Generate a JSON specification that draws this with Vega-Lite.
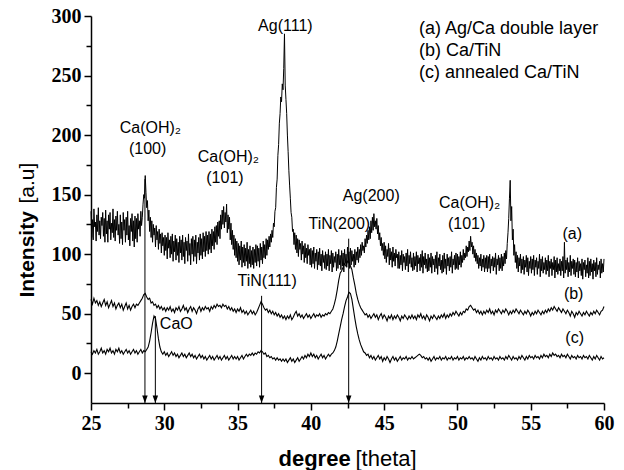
{
"$schema":"https://vega.github.io/schema/vega-lite/v6.json",
"width":513,"height":387,
"autosize":{"type":"none"},
"padding":{"left":91,"top":16,"right":20,"bottom":67},
"background":"white",
"config":{"view":{"stroke":null},"font":"Liberation Sans"},
"datasets":{
"ra":[
{"x":25.00,"a":136},{"x":25.05,"a":114},{"x":25.10,"a":129},{"x":25.15,"a":112},{"x":25.20,"a":138},{"x":25.25,"a":123},{"x":25.30,"a":127},{"x":25.35,"a":111},{"x":25.40,"a":133},{"x":25.45,"a":119},{"x":25.50,"a":139},{"x":25.55,"a":116},{"x":25.60,"a":128},{"x":25.65,"a":113},{"x":25.70,"a":131},{"x":25.75,"a":124},{"x":25.80,"a":135},{"x":25.85,"a":115},{"x":25.90,"a":130},{"x":25.95,"a":110},
{"x":26.00,"a":137},{"x":26.05,"a":117},{"x":26.10,"a":128},{"x":26.15,"a":110},{"x":26.20,"a":133},{"x":26.25,"a":121},{"x":26.30,"a":135},{"x":26.35,"a":112},{"x":26.40,"a":126},{"x":26.45,"a":118},{"x":26.50,"a":138},{"x":26.55,"a":114},{"x":26.60,"a":129},{"x":26.65,"a":111},{"x":26.70,"a":132},{"x":26.75,"a":120},{"x":26.80,"a":136},{"x":26.85,"a":116},{"x":26.90,"a":125},{"x":26.95,"a":109},
{"x":27.00,"a":133},{"x":27.05,"a":113},{"x":27.10,"a":127},{"x":27.15,"a":108},{"x":27.20,"a":135},{"x":27.25,"a":120},{"x":27.30,"a":129},{"x":27.35,"a":110},{"x":27.40,"a":131},{"x":27.45,"a":116},{"x":27.50,"a":136},{"x":27.55,"a":112},{"x":27.60,"a":124},{"x":27.65,"a":107},{"x":27.70,"a":130},{"x":27.75,"a":119},{"x":27.80,"a":134},{"x":27.85,"a":111},{"x":27.90,"a":128},{"x":27.95,"a":106},
{"x":28.00,"a":132},{"x":28.05,"a":113},{"x":28.10,"a":130},{"x":28.15,"a":110},{"x":28.20,"a":134},{"x":28.25,"a":121},{"x":28.30,"a":128},{"x":28.35,"a":115},{"x":28.40,"a":136},{"x":28.45,"a":124},{"x":28.50,"a":131},{"x":28.55,"a":142},{"x":28.60,"a":150},{"x":28.65,"a":147},{"x":28.70,"a":166},{"x":28.75,"a":152},{"x":28.80,"a":139},{"x":28.85,"a":145},{"x":28.90,"a":128},{"x":28.95,"a":137},
{"x":29.00,"a":119},{"x":29.05,"a":131},{"x":29.10,"a":114},{"x":29.15,"a":128},{"x":29.20,"a":110},{"x":29.25,"a":125},{"x":29.30,"a":116},{"x":29.35,"a":122},{"x":29.40,"a":106},{"x":29.45,"a":124},{"x":29.50,"a":112},{"x":29.55,"a":119},{"x":29.60,"a":104},{"x":29.65,"a":121},{"x":29.70,"a":109},{"x":29.75,"a":117},{"x":29.80,"a":101},{"x":29.85,"a":118},{"x":29.90,"a":107},{"x":29.95,"a":114},
{"x":30.00,"a":99},{"x":30.05,"a":116},{"x":30.10,"a":103},{"x":30.15,"a":114},{"x":30.20,"a":96},{"x":30.25,"a":118},{"x":30.30,"a":105},{"x":30.35,"a":112},{"x":30.40,"a":97},{"x":30.45,"a":115},{"x":30.50,"a":100},{"x":30.55,"a":117},{"x":30.60,"a":94},{"x":30.65,"a":111},{"x":30.70,"a":102},{"x":30.75,"a":116},{"x":30.80,"a":95},{"x":30.85,"a":113},{"x":30.90,"a":99},{"x":30.95,"a":110},
{"x":31.00,"a":93},{"x":31.05,"a":115},{"x":31.10,"a":101},{"x":31.15,"a":112},{"x":31.20,"a":95},{"x":31.25,"a":116},{"x":31.30,"a":98},{"x":31.35,"a":110},{"x":31.40,"a":92},{"x":31.45,"a":114},{"x":31.50,"a":103},{"x":31.55,"a":111},{"x":31.60,"a":94},{"x":31.65,"a":117},{"x":31.70,"a":99},{"x":31.75,"a":109},{"x":31.80,"a":91},{"x":31.85,"a":113},{"x":31.90,"a":100},{"x":31.95,"a":115},
{"x":32.00,"a":94},{"x":32.05,"a":112},{"x":32.10,"a":98},{"x":32.15,"a":116},{"x":32.20,"a":92},{"x":32.25,"a":110},{"x":32.30,"a":101},{"x":32.35,"a":114},{"x":32.40,"a":95},{"x":32.45,"a":117},{"x":32.50,"a":99},{"x":32.55,"a":113},{"x":32.60,"a":96},{"x":32.65,"a":118},{"x":32.70,"a":102},{"x":32.75,"a":115},{"x":32.80,"a":98},{"x":32.85,"a":119},{"x":32.90,"a":103},{"x":32.95,"a":116},
{"x":33.00,"a":100},{"x":33.05,"a":119},{"x":33.10,"a":104},{"x":33.15,"a":117},{"x":33.20,"a":101},{"x":33.25,"a":121},{"x":33.30,"a":107},{"x":33.35,"a":119},{"x":33.40,"a":104},{"x":33.45,"a":123},{"x":33.50,"a":110},{"x":33.55,"a":124},{"x":33.60,"a":108},{"x":33.65,"a":127},{"x":33.70,"a":115},{"x":33.75,"a":128},{"x":33.80,"a":113},{"x":33.85,"a":133},{"x":33.90,"a":121},{"x":33.95,"a":137},
{"x":34.00,"a":125},{"x":34.05,"a":140},{"x":34.10,"a":122},{"x":34.15,"a":135},{"x":34.20,"a":127},{"x":34.25,"a":142},{"x":34.30,"a":118},{"x":34.35,"a":133},{"x":34.40,"a":121},{"x":34.45,"a":131},{"x":34.50,"a":112},{"x":34.55,"a":126},{"x":34.60,"a":108},{"x":34.65,"a":120},{"x":34.70,"a":104},{"x":34.75,"a":116},{"x":34.80,"a":99},{"x":34.85,"a":113},{"x":34.90,"a":97},{"x":34.95,"a":111},
{"x":35.00,"a":94},{"x":35.05,"a":109},{"x":35.10,"a":91},{"x":35.15,"a":107},{"x":35.20,"a":95},{"x":35.25,"a":111},{"x":35.30,"a":89},{"x":35.35,"a":106},{"x":35.40,"a":93},{"x":35.45,"a":108},{"x":35.50,"a":90},{"x":35.55,"a":105},{"x":35.60,"a":94},{"x":35.65,"a":110},{"x":35.70,"a":88},{"x":35.75,"a":104},{"x":35.80,"a":92},{"x":35.85,"a":107},{"x":35.90,"a":89},{"x":35.95,"a":103},
{"x":36.00,"a":91},{"x":36.05,"a":106},{"x":36.10,"a":88},{"x":36.15,"a":104},{"x":36.20,"a":93},{"x":36.25,"a":108},{"x":36.30,"a":90},{"x":36.35,"a":107},{"x":36.40,"a":94},{"x":36.45,"a":105},{"x":36.50,"a":89},{"x":36.55,"a":109},{"x":36.60,"a":95},{"x":36.65,"a":106},{"x":36.70,"a":92},{"x":36.75,"a":111},{"x":36.80,"a":97},{"x":36.85,"a":108},{"x":36.90,"a":96},{"x":36.95,"a":113},
{"x":37.00,"a":99},{"x":37.05,"a":112},{"x":37.10,"a":104},{"x":37.15,"a":115},{"x":37.20,"a":106},{"x":37.25,"a":117},{"x":37.30,"a":110},{"x":37.35,"a":120},{"x":37.40,"a":114},{"x":37.45,"a":126},{"x":37.50,"a":123},{"x":37.55,"a":136},{"x":37.60,"a":139},{"x":37.65,"a":156},{"x":37.70,"a":163},{"x":37.75,"a":183},{"x":37.80,"a":192},{"x":37.85,"a":210},{"x":37.90,"a":218},{"x":37.95,"a":232},
{"x":38.00,"a":228},{"x":38.05,"a":243},{"x":38.10,"a":238},{"x":38.15,"a":256},{"x":38.20,"a":285},{"x":38.25,"a":242},{"x":38.30,"a":230},{"x":38.35,"a":218},{"x":38.40,"a":200},{"x":38.45,"a":186},{"x":38.50,"a":170},{"x":38.55,"a":158},{"x":38.60,"a":147},{"x":38.65,"a":135},{"x":38.70,"a":131},{"x":38.75,"a":119},{"x":38.80,"a":121},{"x":38.85,"a":108},{"x":38.90,"a":118},{"x":38.95,"a":104},
{"x":39.00,"a":116},{"x":39.05,"a":101},{"x":39.10,"a":113},{"x":39.15,"a":98},{"x":39.20,"a":112},{"x":39.25,"a":104},{"x":39.30,"a":109},{"x":39.35,"a":95},{"x":39.40,"a":111},{"x":39.45,"a":100},{"x":39.50,"a":107},{"x":39.55,"a":93},{"x":39.60,"a":109},{"x":39.65,"a":97},{"x":39.70,"a":105},{"x":39.75,"a":92},{"x":39.80,"a":108},{"x":39.85,"a":99},{"x":39.90,"a":104},{"x":39.95,"a":91},
{"x":40.00,"a":105},{"x":40.05,"a":89},{"x":40.10,"a":103},{"x":40.15,"a":92},{"x":40.20,"a":106},{"x":40.25,"a":88},{"x":40.30,"a":101},{"x":40.35,"a":94},{"x":40.40,"a":104},{"x":40.45,"a":87},{"x":40.50,"a":102},{"x":40.55,"a":91},{"x":40.60,"a":105},{"x":40.65,"a":90},{"x":40.70,"a":100},{"x":40.75,"a":86},{"x":40.80,"a":103},{"x":40.85,"a":93},{"x":40.90,"a":99},{"x":40.95,"a":88},
{"x":41.00,"a":102},{"x":41.05,"a":87},{"x":41.10,"a":100},{"x":41.15,"a":90},{"x":41.20,"a":104},{"x":41.25,"a":86},{"x":41.30,"a":99},{"x":41.35,"a":92},{"x":41.40,"a":103},{"x":41.45,"a":85},{"x":41.50,"a":101},{"x":41.55,"a":89},{"x":41.60,"a":98},{"x":41.65,"a":93},{"x":41.70,"a":102},{"x":41.75,"a":86},{"x":41.80,"a":100},{"x":41.85,"a":88},{"x":41.90,"a":104},{"x":41.95,"a":91},
{"x":42.00,"a":99},{"x":42.05,"a":87},{"x":42.10,"a":103},{"x":42.15,"a":90},{"x":42.20,"a":101},{"x":42.25,"a":85},{"x":42.30,"a":104},{"x":42.35,"a":92},{"x":42.40,"a":100},{"x":42.45,"a":89},{"x":42.50,"a":106},{"x":42.55,"a":93},{"x":42.60,"a":102},{"x":42.65,"a":88},{"x":42.70,"a":105},{"x":42.75,"a":91},{"x":42.80,"a":103},{"x":42.85,"a":94},{"x":42.90,"a":100},{"x":42.95,"a":89},
{"x":43.00,"a":104},{"x":43.05,"a":91},{"x":43.10,"a":102},{"x":43.15,"a":95},{"x":43.20,"a":106},{"x":43.25,"a":93},{"x":43.30,"a":104},{"x":43.35,"a":97},{"x":43.40,"a":108},{"x":43.45,"a":99},{"x":43.50,"a":110},{"x":43.55,"a":103},{"x":43.60,"a":107},{"x":43.65,"a":101},{"x":43.70,"a":113},{"x":43.75,"a":106},{"x":43.80,"a":116},{"x":43.85,"a":109},{"x":43.90,"a":120},{"x":43.95,"a":112},
{"x":44.00,"a":123},{"x":44.05,"a":113},{"x":44.10,"a":128},{"x":44.15,"a":118},{"x":44.20,"a":131},{"x":44.25,"a":120},{"x":44.30,"a":134},{"x":44.35,"a":123},{"x":44.40,"a":128},{"x":44.45,"a":121},{"x":44.50,"a":130},{"x":44.55,"a":117},{"x":44.60,"a":124},{"x":44.65,"a":112},{"x":44.70,"a":118},{"x":44.75,"a":107},{"x":44.80,"a":114},{"x":44.85,"a":103},{"x":44.90,"a":109},{"x":44.95,"a":99},
{"x":45.00,"a":110},{"x":45.05,"a":96},{"x":45.10,"a":107},{"x":45.15,"a":93},{"x":45.20,"a":104},{"x":45.25,"a":98},{"x":45.30,"a":109},{"x":45.35,"a":91},{"x":45.40,"a":105},{"x":45.45,"a":95},{"x":45.50,"a":102},{"x":45.55,"a":89},{"x":45.60,"a":106},{"x":45.65,"a":94},{"x":45.70,"a":101},{"x":45.75,"a":90},{"x":45.80,"a":104},{"x":45.85,"a":97},{"x":45.90,"a":100},{"x":45.95,"a":88},
{"x":46.00,"a":102},{"x":46.05,"a":88},{"x":46.10,"a":99},{"x":46.15,"a":91},{"x":46.20,"a":103},{"x":46.25,"a":86},{"x":46.30,"a":100},{"x":46.35,"a":93},{"x":46.40,"a":98},{"x":46.45,"a":87},{"x":46.50,"a":101},{"x":46.55,"a":90},{"x":46.60,"a":104},{"x":46.65,"a":85},{"x":46.70,"a":99},{"x":46.75,"a":92},{"x":46.80,"a":102},{"x":46.85,"a":89},{"x":46.90,"a":97},{"x":46.95,"a":86},
{"x":47.00,"a":101},{"x":47.05,"a":87},{"x":47.10,"a":98},{"x":47.15,"a":90},{"x":47.20,"a":102},{"x":47.25,"a":85},{"x":47.30,"a":99},{"x":47.35,"a":92},{"x":47.40,"a":97},{"x":47.45,"a":86},{"x":47.50,"a":100},{"x":47.55,"a":89},{"x":47.60,"a":103},{"x":47.65,"a":84},{"x":47.70,"a":98},{"x":47.75,"a":91},{"x":47.80,"a":101},{"x":47.85,"a":88},{"x":47.90,"a":96},{"x":47.95,"a":85},
{"x":48.00,"a":100},{"x":48.05,"a":86},{"x":48.10,"a":97},{"x":48.15,"a":89},{"x":48.20,"a":101},{"x":48.25,"a":84},{"x":48.30,"a":98},{"x":48.35,"a":91},{"x":48.40,"a":96},{"x":48.45,"a":85},{"x":48.50,"a":99},{"x":48.55,"a":88},{"x":48.60,"a":102},{"x":48.65,"a":83},{"x":48.70,"a":97},{"x":48.75,"a":90},{"x":48.80,"a":100},{"x":48.85,"a":87},{"x":48.90,"a":95},{"x":48.95,"a":84},
{"x":49.00,"a":99},{"x":49.05,"a":85},{"x":49.10,"a":101},{"x":49.15,"a":88},{"x":49.20,"a":96},{"x":49.25,"a":83},{"x":49.30,"a":100},{"x":49.35,"a":90},{"x":49.40,"a":97},{"x":49.45,"a":86},{"x":49.50,"a":98},{"x":49.55,"a":89},{"x":49.60,"a":102},{"x":49.65,"a":84},{"x":49.70,"a":96},{"x":49.75,"a":91},{"x":49.80,"a":99},{"x":49.85,"a":87},{"x":49.90,"a":101},{"x":49.95,"a":88},
{"x":50.00,"a":100},{"x":50.05,"a":87},{"x":50.10,"a":98},{"x":50.15,"a":91},{"x":50.20,"a":102},{"x":50.25,"a":89},{"x":50.30,"a":99},{"x":50.35,"a":93},{"x":50.40,"a":104},{"x":50.45,"a":95},{"x":50.50,"a":101},{"x":50.55,"a":97},{"x":50.60,"a":107},{"x":50.65,"a":98},{"x":50.70,"a":106},{"x":50.75,"a":102},{"x":50.80,"a":111},{"x":50.85,"a":103},{"x":50.90,"a":115},{"x":50.95,"a":106},
{"x":51.00,"a":110},{"x":51.05,"a":100},{"x":51.10,"a":107},{"x":51.15,"a":97},{"x":51.20,"a":104},{"x":51.25,"a":94},{"x":51.30,"a":101},{"x":51.35,"a":92},{"x":51.40,"a":99},{"x":51.45,"a":88},{"x":51.50,"a":97},{"x":51.55,"a":90},{"x":51.60,"a":100},{"x":51.65,"a":86},{"x":51.70,"a":96},{"x":51.75,"a":89},{"x":51.80,"a":99},{"x":51.85,"a":85},{"x":51.90,"a":97},{"x":51.95,"a":88},
{"x":52.00,"a":99},{"x":52.05,"a":85},{"x":52.10,"a":98},{"x":52.15,"a":88},{"x":52.20,"a":100},{"x":52.25,"a":84},{"x":52.30,"a":96},{"x":52.35,"a":90},{"x":52.40,"a":98},{"x":52.45,"a":86},{"x":52.50,"a":97},{"x":52.55,"a":89},{"x":52.60,"a":101},{"x":52.65,"a":83},{"x":52.70,"a":96},{"x":52.75,"a":91},{"x":52.80,"a":99},{"x":52.85,"a":86},{"x":52.90,"a":97},{"x":52.95,"a":88},
{"x":53.00,"a":100},{"x":53.05,"a":86},{"x":53.10,"a":98},{"x":53.15,"a":90},{"x":53.20,"a":101},{"x":53.25,"a":92},{"x":53.30,"a":103},{"x":53.35,"a":96},{"x":53.40,"a":109},{"x":53.45,"a":118},{"x":53.50,"a":130},{"x":53.55,"a":147},{"x":53.60,"a":162},{"x":53.65,"a":128},{"x":53.70,"a":140},{"x":53.75,"a":112},{"x":53.80,"a":121},{"x":53.85,"a":99},{"x":53.90,"a":108},{"x":53.95,"a":93},
{"x":54.00,"a":102},{"x":54.05,"a":88},{"x":54.10,"a":99},{"x":54.15,"a":85},{"x":54.20,"a":97},{"x":54.25,"a":90},{"x":54.30,"a":100},{"x":54.35,"a":84},{"x":54.40,"a":96},{"x":54.45,"a":87},{"x":54.50,"a":98},{"x":54.55,"a":83},{"x":54.60,"a":95},{"x":54.65,"a":89},{"x":54.70,"a":99},{"x":54.75,"a":85},{"x":54.80,"a":97},{"x":54.85,"a":82},{"x":54.90,"a":94},{"x":54.95,"a":88},
{"x":55.00,"a":98},{"x":55.05,"a":84},{"x":55.10,"a":96},{"x":55.15,"a":87},{"x":55.20,"a":99},{"x":55.25,"a":82},{"x":55.30,"a":95},{"x":55.35,"a":89},{"x":55.40,"a":97},{"x":55.45,"a":83},{"x":55.50,"a":94},{"x":55.55,"a":88},{"x":55.60,"a":100},{"x":55.65,"a":81},{"x":55.70,"a":96},{"x":55.75,"a":86},{"x":55.80,"a":98},{"x":55.85,"a":84},{"x":55.90,"a":93},{"x":55.95,"a":87},
{"x":56.00,"a":97},{"x":56.05,"a":83},{"x":56.10,"a":95},{"x":56.15,"a":86},{"x":56.20,"a":99},{"x":56.25,"a":81},{"x":56.30,"a":94},{"x":56.35,"a":88},{"x":56.40,"a":96},{"x":56.45,"a":82},{"x":56.50,"a":93},{"x":56.55,"a":87},{"x":56.60,"a":98},{"x":56.65,"a":80},{"x":56.70,"a":95},{"x":56.75,"a":85},{"x":56.80,"a":97},{"x":56.85,"a":83},{"x":56.90,"a":92},{"x":56.95,"a":86},
{"x":57.00,"a":96},{"x":57.05,"a":82},{"x":57.10,"a":94},{"x":57.15,"a":86},{"x":57.20,"a":98},{"x":57.25,"a":80},{"x":57.30,"a":110},{"x":57.35,"a":84},{"x":57.40,"a":95},{"x":57.45,"a":87},{"x":57.50,"a":97},{"x":57.55,"a":81},{"x":57.60,"a":93},{"x":57.65,"a":85},{"x":57.70,"a":99},{"x":57.75,"a":82},{"x":57.80,"a":94},{"x":57.85,"a":88},{"x":57.90,"a":96},{"x":57.95,"a":83},
{"x":58.00,"a":95},{"x":58.05,"a":81},{"x":58.10,"a":93},{"x":58.15,"a":85},{"x":58.20,"a":97},{"x":58.25,"a":80},{"x":58.30,"a":94},{"x":58.35,"a":86},{"x":58.40,"a":92},{"x":58.45,"a":82},{"x":58.50,"a":96},{"x":58.55,"a":79},{"x":58.60,"a":93},{"x":58.65,"a":87},{"x":58.70,"a":95},{"x":58.75,"a":81},{"x":58.80,"a":91},{"x":58.85,"a":84},{"x":58.90,"a":97},{"x":58.95,"a":80},
{"x":59.00,"a":94},{"x":59.05,"a":82},{"x":59.10,"a":96},{"x":59.15,"a":85},{"x":59.20,"a":92},{"x":59.25,"a":79},{"x":59.30,"a":95},{"x":59.35,"a":86},{"x":59.40,"a":93},{"x":59.45,"a":81},{"x":59.50,"a":97},{"x":59.55,"a":83},{"x":59.60,"a":91},{"x":59.65,"a":87},{"x":59.70,"a":94},{"x":59.75,"a":80},{"x":59.80,"a":96},{"x":59.85,"a":84},{"x":59.90,"a":92},{"x":59.95,"a":85},
{"x":60.00,"a":96}
],
"xrd":[
{"x":25.0,"b":62,"c":18},{"x":25.1,"b":58,"c":16},{"x":25.2,"b":63,"c":19},{"x":25.3,"b":59,"c":17},{"x":25.4,"b":61,"c":20},{"x":25.5,"b":57,"c":16},{"x":25.6,"b":60,"c":18},{"x":25.7,"b":56,"c":21},{"x":25.8,"b":59,"c":17},{"x":25.9,"b":62,"c":19},
{"x":26.0,"b":57,"c":16},{"x":26.1,"b":60,"c":20},{"x":26.2,"b":55,"c":18},{"x":26.3,"b":58,"c":21},{"x":26.4,"b":61,"c":17},{"x":26.5,"b":56,"c":19},{"x":26.6,"b":59,"c":16},{"x":26.7,"b":54,"c":20},{"x":26.8,"b":57,"c":18},{"x":26.9,"b":59,"c":21},
{"x":27.0,"b":55,"c":17},{"x":27.1,"b":58,"c":19},{"x":27.2,"b":53,"c":16},{"x":27.3,"b":56,"c":18},{"x":27.4,"b":59,"c":20},{"x":27.5,"b":54,"c":17},{"x":27.6,"b":57,"c":19},{"x":27.7,"b":53,"c":16},{"x":27.8,"b":56,"c":18},{"x":27.9,"b":58,"c":20},
{"x":28.0,"b":55,"c":17},{"x":28.1,"b":58,"c":19},{"x":28.2,"b":57,"c":16},{"x":28.3,"b":59,"c":18},{"x":28.4,"b":61,"c":20},{"x":28.5,"b":63,"c":17},{"x":28.6,"b":66,"c":19},{"x":28.7,"b":67,"c":18},{"x":28.8,"b":64,"c":20},{"x":28.9,"b":62,"c":22},
{"x":29.0,"b":63,"c":27},{"x":29.1,"b":59,"c":34},{"x":29.2,"b":60,"c":42},{"x":29.3,"b":57,"c":48},{"x":29.4,"b":58,"c":46},{"x":29.5,"b":55,"c":38},{"x":29.6,"b":57,"c":29},{"x":29.7,"b":54,"c":22},{"x":29.8,"b":56,"c":18},{"x":29.9,"b":53,"c":16},
{"x":30.0,"b":55,"c":18},{"x":30.1,"b":52,"c":15},{"x":30.2,"b":55,"c":17},{"x":30.3,"b":53,"c":14},{"x":30.4,"b":56,"c":16},{"x":30.5,"b":52,"c":18},{"x":30.6,"b":54,"c":15},{"x":30.7,"b":51,"c":17},{"x":30.8,"b":55,"c":14},{"x":30.9,"b":53,"c":16},
{"x":31.0,"b":56,"c":13},{"x":31.1,"b":52,"c":15},{"x":31.2,"b":54,"c":17},{"x":31.3,"b":57,"c":14},{"x":31.4,"b":53,"c":16},{"x":31.5,"b":55,"c":13},{"x":31.6,"b":51,"c":15},{"x":31.7,"b":54,"c":17},{"x":31.8,"b":56,"c":14},{"x":31.9,"b":52,"c":16},
{"x":32.0,"b":55,"c":13},{"x":32.1,"b":53,"c":15},{"x":32.2,"b":50,"c":12},{"x":32.3,"b":54,"c":14},{"x":32.4,"b":56,"c":16},{"x":32.5,"b":52,"c":13},{"x":32.6,"b":55,"c":15},{"x":32.7,"b":53,"c":12},{"x":32.8,"b":56,"c":14},{"x":32.9,"b":54,"c":11},
{"x":33.0,"b":55,"c":13},{"x":33.1,"b":52,"c":15},{"x":33.2,"b":56,"c":12},{"x":33.3,"b":54,"c":14},{"x":33.4,"b":57,"c":11},{"x":33.5,"b":55,"c":13},{"x":33.6,"b":58,"c":15},{"x":33.7,"b":56,"c":12},{"x":33.8,"b":57,"c":14},{"x":33.9,"b":55,"c":11},
{"x":34.0,"b":58,"c":13},{"x":34.1,"b":56,"c":15},{"x":34.2,"b":57,"c":12},{"x":34.3,"b":54,"c":14},{"x":34.4,"b":56,"c":11},{"x":34.5,"b":53,"c":13},{"x":34.6,"b":55,"c":15},{"x":34.7,"b":52,"c":12},{"x":34.8,"b":54,"c":14},{"x":34.9,"b":51,"c":12},
{"x":35.0,"b":54,"c":14},{"x":35.1,"b":52,"c":11},{"x":35.2,"b":55,"c":13},{"x":35.3,"b":51,"c":15},{"x":35.4,"b":53,"c":12},{"x":35.5,"b":50,"c":14},{"x":35.6,"b":52,"c":16},{"x":35.7,"b":49,"c":14},{"x":35.8,"b":51,"c":16},{"x":35.9,"b":53,"c":15},
{"x":36.0,"b":50,"c":17},{"x":36.1,"b":52,"c":15},{"x":36.2,"b":49,"c":17},{"x":36.3,"b":51,"c":16},{"x":36.4,"b":54,"c":18},{"x":36.5,"b":57,"c":17},{"x":36.6,"b":60,"c":19},{"x":36.7,"b":58,"c":18},{"x":36.8,"b":55,"c":16},{"x":36.9,"b":53,"c":17},
{"x":37.0,"b":54,"c":14},{"x":37.1,"b":51,"c":15},{"x":37.2,"b":53,"c":13},{"x":37.3,"b":50,"c":14},{"x":37.4,"b":52,"c":12},{"x":37.5,"b":49,"c":13},{"x":37.6,"b":51,"c":11},{"x":37.7,"b":48,"c":13},{"x":37.8,"b":50,"c":11},{"x":37.9,"b":47,"c":12},
{"x":38.0,"b":49,"c":10},{"x":38.1,"b":46,"c":12},{"x":38.2,"b":48,"c":10},{"x":38.3,"b":45,"c":12},{"x":38.4,"b":48,"c":9},{"x":38.5,"b":46,"c":11},{"x":38.6,"b":49,"c":13},{"x":38.7,"b":45,"c":10},{"x":38.8,"b":47,"c":12},{"x":38.9,"b":50,"c":9},
{"x":39.0,"b":52,"c":11},{"x":39.1,"b":48,"c":13},{"x":39.2,"b":50,"c":10},{"x":39.3,"b":47,"c":12},{"x":39.4,"b":49,"c":14},{"x":39.5,"b":46,"c":12},{"x":39.6,"b":48,"c":15},{"x":39.7,"b":50,"c":13},{"x":39.8,"b":47,"c":16},{"x":39.9,"b":49,"c":14},
{"x":40.0,"b":46,"c":17},{"x":40.1,"b":48,"c":14},{"x":40.2,"b":50,"c":16},{"x":40.3,"b":47,"c":13},{"x":40.4,"b":49,"c":15},{"x":40.5,"b":48,"c":12},{"x":40.6,"b":50,"c":14},{"x":40.7,"b":47,"c":16},{"x":40.8,"b":49,"c":13},{"x":40.9,"b":48,"c":15},
{"x":41.0,"b":50,"c":12},{"x":41.1,"b":49,"c":14},{"x":41.2,"b":51,"c":16},{"x":41.3,"b":50,"c":14},{"x":41.4,"b":52,"c":16},{"x":41.5,"b":54,"c":17},{"x":41.6,"b":58,"c":19},{"x":41.7,"b":63,"c":22},{"x":41.8,"b":70,"c":27},{"x":41.9,"b":78,"c":33},
{"x":42.0,"b":84,"c":39},{"x":42.1,"b":86,"c":45},{"x":42.2,"b":89,"c":50},{"x":42.3,"b":92,"c":56},{"x":42.4,"b":90,"c":61},{"x":42.5,"b":94,"c":64},{"x":42.6,"b":93,"c":68},{"x":42.7,"b":90,"c":67},{"x":42.8,"b":87,"c":62},{"x":42.9,"b":80,"c":54},
{"x":43.0,"b":74,"c":46},{"x":43.1,"b":67,"c":39},{"x":43.2,"b":62,"c":33},{"x":43.3,"b":58,"c":28},{"x":43.4,"b":55,"c":24},{"x":43.5,"b":53,"c":21},{"x":43.6,"b":51,"c":18},{"x":43.7,"b":49,"c":17},{"x":43.8,"b":50,"c":15},{"x":43.9,"b":47,"c":16},
{"x":44.0,"b":49,"c":13},{"x":44.1,"b":46,"c":15},{"x":44.2,"b":48,"c":12},{"x":44.3,"b":50,"c":14},{"x":44.4,"b":47,"c":11},{"x":44.5,"b":49,"c":13},{"x":44.6,"b":45,"c":15},{"x":44.7,"b":48,"c":12},{"x":44.8,"b":50,"c":14},{"x":44.9,"b":46,"c":10},
{"x":45.0,"b":49,"c":13},{"x":45.1,"b":47,"c":11},{"x":45.2,"b":44,"c":14},{"x":45.3,"b":48,"c":12},{"x":45.4,"b":46,"c":9},{"x":45.5,"b":49,"c":12},{"x":45.6,"b":45,"c":14},{"x":45.7,"b":48,"c":11},{"x":45.8,"b":46,"c":13},{"x":45.9,"b":49,"c":10},
{"x":46.0,"b":47,"c":12},{"x":46.1,"b":44,"c":14},{"x":46.2,"b":48,"c":11},{"x":46.3,"b":46,"c":13},{"x":46.4,"b":49,"c":12},{"x":46.5,"b":47,"c":14},{"x":46.6,"b":45,"c":11},{"x":46.7,"b":48,"c":13},{"x":46.8,"b":46,"c":12},{"x":46.9,"b":49,"c":14},
{"x":47.0,"b":46,"c":12},{"x":47.1,"b":48,"c":13},{"x":47.2,"b":45,"c":14},{"x":47.3,"b":49,"c":15},{"x":47.4,"b":47,"c":16},{"x":47.5,"b":50,"c":15},{"x":47.6,"b":46,"c":13},{"x":47.7,"b":48,"c":14},{"x":47.8,"b":45,"c":12},{"x":47.9,"b":49,"c":13},
{"x":48.0,"b":47,"c":11},{"x":48.1,"b":44,"c":13},{"x":48.2,"b":48,"c":10},{"x":48.3,"b":46,"c":12},{"x":48.4,"b":49,"c":14},{"x":48.5,"b":47,"c":11},{"x":48.6,"b":45,"c":13},{"x":48.7,"b":48,"c":12},{"x":48.8,"b":46,"c":14},{"x":48.9,"b":49,"c":11},
{"x":49.0,"b":47,"c":13},{"x":49.1,"b":50,"c":12},{"x":49.2,"b":46,"c":14},{"x":49.3,"b":49,"c":11},{"x":49.4,"b":47,"c":13},{"x":49.5,"b":50,"c":12},{"x":49.6,"b":48,"c":14},{"x":49.7,"b":51,"c":11},{"x":49.8,"b":49,"c":13},{"x":49.9,"b":52,"c":12},
{"x":50.0,"b":50,"c":14},{"x":50.1,"b":48,"c":11},{"x":50.2,"b":51,"c":13},{"x":50.3,"b":49,"c":12},{"x":50.4,"b":52,"c":14},{"x":50.5,"b":51,"c":11},{"x":50.6,"b":54,"c":13},{"x":50.7,"b":53,"c":12},{"x":50.8,"b":56,"c":14},{"x":50.9,"b":57,"c":12},
{"x":51.0,"b":55,"c":13},{"x":51.1,"b":53,"c":11},{"x":51.2,"b":54,"c":14},{"x":51.3,"b":51,"c":12},{"x":51.4,"b":53,"c":10},{"x":51.5,"b":50,"c":13},{"x":51.6,"b":52,"c":11},{"x":51.7,"b":49,"c":14},{"x":51.8,"b":52,"c":12},{"x":51.9,"b":50,"c":13},
{"x":52.0,"b":53,"c":11},{"x":52.1,"b":51,"c":14},{"x":52.2,"b":54,"c":12},{"x":52.3,"b":50,"c":13},{"x":52.4,"b":52,"c":11},{"x":52.5,"b":49,"c":14},{"x":52.6,"b":53,"c":12},{"x":52.7,"b":51,"c":13},{"x":52.8,"b":54,"c":11},{"x":52.9,"b":52,"c":14},
{"x":53.0,"b":50,"c":12},{"x":53.1,"b":53,"c":13},{"x":53.2,"b":51,"c":11},{"x":53.3,"b":54,"c":14},{"x":53.4,"b":52,"c":12},{"x":53.5,"b":49,"c":15},{"x":53.6,"b":52,"c":13},{"x":53.7,"b":50,"c":11},{"x":53.8,"b":53,"c":14},{"x":53.9,"b":51,"c":12},
{"x":54.0,"b":54,"c":13},{"x":54.1,"b":52,"c":11},{"x":54.2,"b":50,"c":14},{"x":54.3,"b":53,"c":12},{"x":54.4,"b":51,"c":15},{"x":54.5,"b":49,"c":13},{"x":54.6,"b":52,"c":11},{"x":54.7,"b":50,"c":14},{"x":54.8,"b":53,"c":12},{"x":54.9,"b":51,"c":15},
{"x":55.0,"b":48,"c":13},{"x":55.1,"b":51,"c":14},{"x":55.2,"b":49,"c":12},{"x":55.3,"b":52,"c":15},{"x":55.4,"b":50,"c":13},{"x":55.5,"b":53,"c":14},{"x":55.6,"b":51,"c":12},{"x":55.7,"b":49,"c":15},{"x":55.8,"b":52,"c":13},{"x":55.9,"b":50,"c":16},
{"x":56.0,"b":53,"c":14},{"x":56.1,"b":51,"c":15},{"x":56.2,"b":54,"c":13},{"x":56.3,"b":52,"c":16},{"x":56.4,"b":55,"c":14},{"x":56.5,"b":53,"c":17},{"x":56.6,"b":56,"c":15},{"x":56.7,"b":54,"c":16},{"x":56.8,"b":52,"c":14},{"x":56.9,"b":55,"c":15},
{"x":57.0,"b":53,"c":13},{"x":57.1,"b":51,"c":16},{"x":57.2,"b":54,"c":14},{"x":57.3,"b":52,"c":15},{"x":57.4,"b":50,"c":13},{"x":57.5,"b":53,"c":16},{"x":57.6,"b":51,"c":14},{"x":57.7,"b":48,"c":12},{"x":57.8,"b":52,"c":15},{"x":57.9,"b":50,"c":13},
{"x":58.0,"b":47,"c":14},{"x":58.1,"b":51,"c":12},{"x":58.2,"b":49,"c":15},{"x":58.3,"b":52,"c":13},{"x":58.4,"b":50,"c":14},{"x":58.5,"b":48,"c":12},{"x":58.6,"b":51,"c":15},{"x":58.7,"b":49,"c":13},{"x":58.8,"b":52,"c":14},{"x":58.9,"b":50,"c":12},
{"x":59.0,"b":48,"c":15},{"x":59.1,"b":51,"c":13},{"x":59.2,"b":49,"c":11},{"x":59.3,"b":52,"c":14},{"x":59.4,"b":50,"c":12},{"x":59.5,"b":53,"c":15},{"x":59.6,"b":51,"c":13},{"x":59.7,"b":49,"c":11},{"x":59.8,"b":52,"c":14},{"x":59.9,"b":53,"c":12},
{"x":60.0,"b":56,"c":13}
],
"arrows":[
{"x":28.68,"top":163},{"x":29.39,"top":48},{"x":36.64,"top":65},{"x":42.58,"top":113}
],
"labels":[
{"x":29.05,"y":201.5,"t":"Ca(OH)₂"},{"x":28.86,"y":184,"t":"(100)"},
{"x":34.37,"y":177,"t":"Ca(OH)₂"},{"x":34.14,"y":159.5,"t":"(101)"},
{"x":38.26,"y":287.6,"t":"Ag(111)"},
{"x":44.12,"y":144.8,"t":"Ag(200)"},
{"x":41.94,"y":120.8,"t":"TiN(200)"},
{"x":50.83,"y":138.5,"t":"Ca(OH)₂"},{"x":50.63,"y":120.8,"t":"(101)"},
{"x":37.02,"y":73.2,"t":"TiN(111)"},
{"x":30.82,"y":36.9,"t":"CaO"},
{"x":57.83,"y":113,"t":"(a)"},{"x":57.93,"y":62,"t":"(b)"},{"x":58.0,"y":25,"t":"(c)"}
],
"legend":[
{"x":47.38,"y":284.6,"t":"(a) Ag/Ca double layer"},
{"x":47.38,"y":266.4,"t":"(b) Ca/TiN"},
{"x":47.38,"y":248.2,"t":"(c) annealed Ca/TiN"}
]
},
"resolve":{"axis":{"x":"independent","y":"independent"}},
"layer":[
{"data":{"name":"labels"},
 "mark":{"type":"text","font":"Liberation Sans","fontSize":16,"color":"black","align":"center","baseline":"alphabetic"},
 "encoding":{
  "x":{"field":"x","type":"quantitative","scale":{"domain":[25,60],"nice":false,"zero":false},
   "axis":{"orient":"bottom","values":[25,30,35,40,45,50,55,60],"tickSize":7,"tickWidth":1.5,"tickColor":"black","labelPadding":3,"labelFont":"Liberation Sans Narrow","labelFontWeight":"bold","labelFontSize":20,"labelColor":"black","labelFlush":false,"domainColor":"black","domainWidth":1.5,"grid":false,
    "title":"degree","titleFont":"Liberation Sans","titleFontWeight":"bold","titleFontSize":22,"titleColor":"black","titleAlign":"left","titleAnchor":"start","titleX":187,"titleY":62,"titleBaseline":"alphabetic"}},
  "y":{"field":"y","type":"quantitative","scale":{"domain":[-25,300],"nice":false,"zero":false},
   "axis":{"orient":"left","values":[0,50,100,150,200,250,300],"tickSize":7,"tickWidth":1.5,"tickColor":"black","labelPadding":3,"labelFont":"Liberation Sans Narrow","labelFontWeight":"bold","labelFontSize":20,"labelColor":"black","labelFlush":false,"domainColor":"black","domainWidth":1.5,"grid":false,
    "title":"Intensity","titleFont":"Liberation Sans","titleFontWeight":"bold","titleFontSize":21,"titleColor":"black","titleAngle":-90,"titleAlign":"left","titleAnchor":"start","titleX":-58,"titleY":281,"titleBaseline":"alphabetic"}},
  "text":{"field":"t"}
 }},
{"data":{"name":"legend"},
 "mark":{"type":"text","font":"Liberation Sans","fontSize":18,"color":"black","align":"left","baseline":"alphabetic"},
 "encoding":{
  "x":{"field":"x","type":"quantitative",
   "axis":{"orient":"bottom","values":[27.5,32.5,37.5,42.5,47.5,52.5,57.5],"tickSize":5,"tickWidth":1.5,"tickColor":"black","labels":false,"domain":false,"grid":false,
    "title":"[theta]","titleFont":"Liberation Sans","titleFontWeight":"normal","titleFontSize":22,"titleColor":"black","titleAlign":"left","titleAnchor":"start","titleX":264,"titleY":62,"titleBaseline":"alphabetic"}},
  "y":{"field":"y","type":"quantitative",
   "axis":{"orient":"left","values":[25,75,125,175,225,275],"tickSize":5,"tickWidth":1.5,"tickColor":"black","labels":false,"domain":false,"grid":false,
    "title":"[a.u]","titleFont":"Liberation Sans","titleFontWeight":"normal","titleFontSize":21,"titleColor":"black","titleAngle":-90,"titleAlign":"left","titleAnchor":"start","titleX":-58,"titleY":187,"titleBaseline":"alphabetic"}},
  "text":{"field":"t"}
 }},
{"data":{"name":"ra"},
 "mark":{"type":"line","color":"black","strokeWidth":1},
 "encoding":{
  "x":{"field":"x","type":"quantitative","axis":null},
  "y":{"field":"a","type":"quantitative","axis":null}
 }},
{"data":{"name":"xrd"},
 "mark":{"type":"line","color":"black","strokeWidth":1.1},
 "encoding":{
  "x":{"field":"x","type":"quantitative","axis":null},
  "y":{"field":"b","type":"quantitative","axis":null}
 }},
{"data":{"name":"xrd"},
 "mark":{"type":"line","color":"black","strokeWidth":1.1},
 "encoding":{
  "x":{"field":"x","type":"quantitative","axis":null},
  "y":{"field":"c","type":"quantitative","axis":null}
 }},
{"data":{"name":"arrows"},
 "mark":{"type":"rule","color":"black","strokeWidth":1},
 "encoding":{
  "x":{"field":"x","type":"quantitative","axis":null},
  "y":{"field":"top","type":"quantitative","axis":null},
  "y2":{"datum":-25}
 }},
{"data":{"name":"arrows"},
 "mark":{"type":"point","shape":"M-1,-2.7L0,0L1,-2.7Z","filled":true,"color":"black","size":30,"opacity":1},
 "encoding":{
  "x":{"field":"x","type":"quantitative","axis":null},
  "y":{"datum":-25,"type":"quantitative","axis":null}
 }}
]
}
